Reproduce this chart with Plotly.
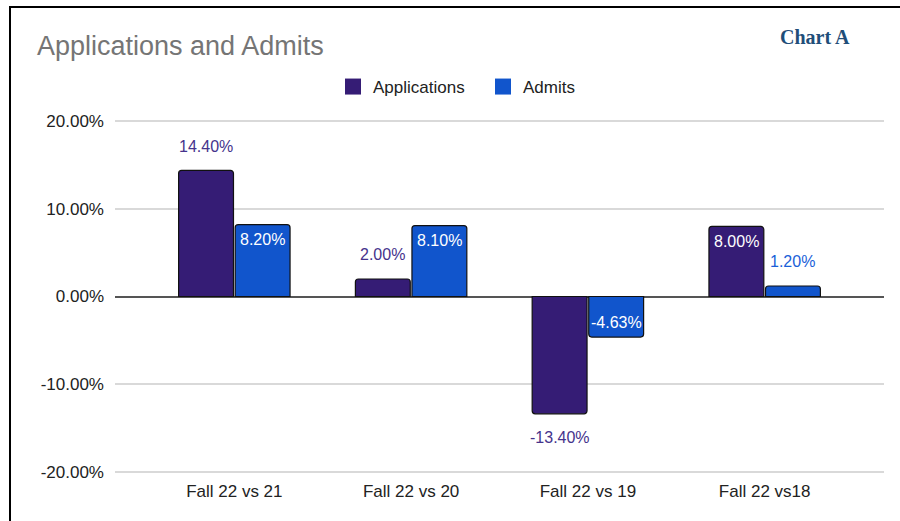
import plotly.graph_objects as go

# ---- data ----
categories = ["Fall 22 vs 21", "Fall 22 vs 20", "Fall 22 vs 19", "Fall 22 vs18"]
applications = [14.40, 2.00, -13.40, 8.00]
admits = [8.20, 8.10, -4.63, 1.20]
y_tick_values = [-20, -10, 0, 10, 20]
y_tick_labels = ["-20.00%", "-10.00%", "0.00%", "10.00%", "20.00%"]

# ---- style ----
APP_COLOR = "#351c75"
ADM_COLOR = "#1155cc"
APP_LABEL = "#45338c"
ADM_LABEL = "#1a5fd8"
FONT = "Liberation Sans, Arial, sans-serif"
BARGAP = 0.36
BARGROUPGAP = 0.03
# label placement per point: True = inside the bar
app_inside = [False, False, False, True]
adm_inside = [True, True, True, False]

W, H = 900, 521
ML, MR, MT, MB = 115, 16, 117, 45
PW = W - ML - MR
PH = H - MT - MB
Y_RANGE = [-20.5, 20.5]


def px_to_paper_x(px):
    return (px - ML) / PW


def px_to_paper_y(py):
    return (H - MB - py) / PH


fig = go.Figure()
fig.add_trace(go.Bar(x=categories, y=applications, name="Applications",
                     marker=dict(color=APP_COLOR, line=dict(color="#111111", width=1.2),
                                 cornerradius=3),
                     showlegend=False, hoverinfo="skip"))
fig.add_trace(go.Bar(x=categories, y=admits, name="Admits",
                     marker=dict(color=ADM_COLOR, line=dict(color="#111111", width=1.2),
                                 cornerradius=3),
                     showlegend=False, hoverinfo="skip"))
# legend proxies (bigger square swatches)
for nm, col in [("Applications", APP_COLOR), ("Admits", ADM_COLOR)]:
    fig.add_trace(go.Scatter(x=[None], y=[None], mode="markers", name=nm,
                             marker=dict(symbol="square", size=16, color=col,
                                         line=dict(width=0))))

# value labels
offset = (1 - BARGAP) / 4
annotations = []
for series, inside_flags, sgn_off, out_col in [
    (applications, app_inside, -offset, APP_LABEL),
    (admits, adm_inside, offset, ADM_LABEL),
]:
    for i, v in enumerate(series):
        s = 1 if v >= 0 else -1
        if inside_flags[i]:
            shift = -s * 15
            col = "white"
        else:
            shift = s * 24
            col = out_col
        annotations.append(dict(x=i + sgn_off, y=v, xref="x", yref="y",
                                text=f"{v:.2f}%", showarrow=False,
                                yshift=shift, yanchor="middle", xanchor="center",
                                font=dict(family=FONT, size=16, color=col)))

annotations.append(dict(x=px_to_paper_x(815), y=px_to_paper_y(37), xref="paper", yref="paper",
                        text="<b>Chart A</b>", showarrow=False, xanchor="center", yanchor="middle",
                        font=dict(family="Liberation Serif, Times New Roman, serif", size=20,
                                  color="#1f4e79")))

fig.update_layout(
    width=W, height=H,
    margin=dict(l=ML, r=MR, t=MT, b=MB, autoexpand=False),
    paper_bgcolor="white", plot_bgcolor="white",
    barmode="group", bargap=BARGAP, bargroupgap=BARGROUPGAP,
    title=dict(text="Applications and Admits", xref="container", yref="container",
               x=37 / W, xanchor="left", y=1 - 46 / H, yanchor="middle",
               font=dict(family=FONT, size=27, color="#757575")),
    font=dict(family=FONT, size=17, color="#222222"),
    legend=dict(orientation="h", x=px_to_paper_x(333), xanchor="left",
                y=px_to_paper_y(87), yanchor="middle", entrywidth=105,
                font=dict(family=FONT, size=17, color="#222222"),
                bgcolor="rgba(0,0,0,0)"),
    annotations=annotations,
    shapes=[
        dict(type="line", xref="paper", yref="paper",
             x0=px_to_paper_x(9), x1=px_to_paper_x(900), y0=px_to_paper_y(7), y1=px_to_paper_y(7),
             line=dict(color="black", width=2)),
        dict(type="line", xref="paper", yref="paper",
             x0=px_to_paper_x(10), x1=px_to_paper_x(10), y0=px_to_paper_y(6), y1=px_to_paper_y(521),
             line=dict(color="black", width=2)),
    ],
)
fig.update_xaxes(range=[-0.675, 3.675], showgrid=False, showline=False, zeroline=False,
                 ticks="", ticklabelstandoff=3,
                 tickfont=dict(family=FONT, size=17, color="#222222"))
fig.update_yaxes(range=Y_RANGE, tickvals=y_tick_values, ticktext=y_tick_labels,
                 showgrid=True, gridcolor="#d9d9d9", gridwidth=1.5,
                 zeroline=True, zerolinecolor="#555555", zerolinewidth=1.8,
                 showline=False, ticks="", ticklabelstandoff=10,
                 tickfont=dict(family=FONT, size=17, color="#222222"))

fig.write_html("out.html", config={"displayModeBar": False},
               post_script="document.body.style.margin='0';document.body.style.overflow='hidden';")
